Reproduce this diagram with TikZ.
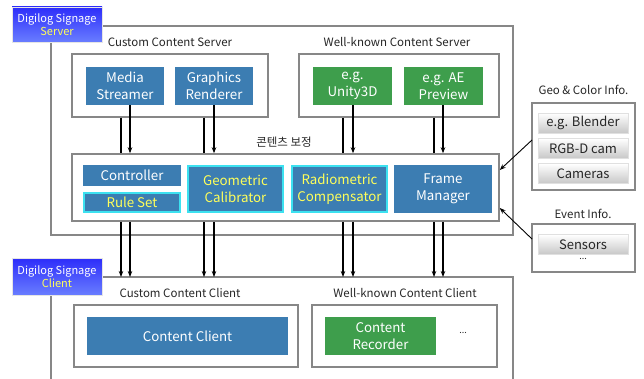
\documentclass[tikz,border=0pt]{standalone}
\usepackage{fontspec}
\setmainfont{Noto Sans CJK KR}
\usetikzlibrary{arrows.meta,calc}
\definecolor{boxblue}{RGB}{60,125,178}
\definecolor{boxgreen}{RGB}{62,158,76}
\definecolor{framegray}{RGB}{135,135,135}
\definecolor{cyanedge}{RGB}{60,225,240}
\definecolor{ytext}{RGB}{255,255,90}
\definecolor{labtop}{RGB}{45,45,250}
\definecolor{labbot}{RGB}{105,125,255}
\tikzset{
  frame/.style={draw=framegray, line width=1.5pt, fill=white, inner sep=0pt},
  bluebox/.style={fill=boxblue, text=white, align=center, inner sep=0pt,
    font=\fontsize{13.3}{16.5}\selectfont},
  greenbox/.style={fill=boxgreen, text=white, align=center, inner sep=0pt,
    font=\fontsize{13.3}{16.5}\selectfont},
  calbox/.style={bluebox, draw=cyanedge, line width=1.2pt, text=ytext},
  graybtn/.style={top color=white, bottom color=black!22, draw=black!12,
    inner sep=0pt, font=\fontsize{13}{16}\selectfont, text=black!85},
  lab/.style={font=\fontsize{11.5}{13}\selectfont, text=black!85, inner sep=0pt},
  sidelab/.style={top color=labtop, bottom color=labbot, draw=black!10,
    align=center, inner sep=0pt, text=white, font=\fontsize{11}{14.5}\selectfont},
  flow/.style={line width=1.2pt, -{Stealth[length=6pt,width=4.5pt]}},
  plain/.style={line width=1.2pt},
  infoarrow/.style={line width=0.9pt, -{Stealth[length=6pt,width=4.5pt]}}
}
\begin{document}
\begin{tikzpicture}[x=1pt,y=-1pt]
\useasboundingbox (0,0) rectangle (644,379);

% server frame
\node[frame, minimum width=462pt, minimum height=209pt] (srv) at (282,130.5) {};
% client frame (open at bottom)
\coordinate (cltl) at (51,277);
\coordinate (cltr) at (513,277);
\draw[framegray, line width=1.5pt] (51,379) -- (cltl) -- (cltr) -- (513,379);

% side labels
\node[sidelab, minimum width=90pt, minimum height=35pt] (srvlab) at (57,24.5)
  {Digilog Signage\\[-1pt]\textcolor{ytext}{Server}};
\node[sidelab, minimum width=90pt, minimum height=37pt] (cltlab) at (57,276.5)
  {Digilog Signage\\[-1pt]\textcolor{ytext}{Client}};

% server sub-frames
\node[lab] (ccslab) at (170,42) {Custom Content Server};
\node[lab] (wcslab) at (397,42) {Well-known Content Server};
\node[frame, minimum width=196pt, minimum height=63pt] (ccs) at (170,85.5) {};
\node[frame, minimum width=200pt, minimum height=63pt] (wcs) at (399,85.5) {};

\node[bluebox, minimum width=78pt, minimum height=38pt] (ms) at (125,86) {Media\\Streamer};
\node[bluebox, minimum width=78pt, minimum height=38pt] (gr) at (214,86) {Graphics\\Renderer};
\node[greenbox, minimum width=79pt, minimum height=38pt] (u3d) at (352.5,86) {e.g.\\Unity3D};
\node[greenbox, minimum width=79pt, minimum height=38pt] (ae) at (443.5,86) {e.g. AE\\Preview};

% middle frame
\node[lab] (corrlab) at (284,142) {콘텐츠 보정};
\node[frame, minimum width=427pt, minimum height=67pt] (mid) at (285.5,187.5) {};
\node[bluebox, minimum width=98pt, minimum height=21pt] (ctrl) at (132,175.5) {Controller};
\node[calbox, minimum width=96pt, minimum height=19pt, text depth=0pt] (rule) at (132,202.5) {Rule Set};
\node[calbox, minimum width=95pt, minimum height=46pt] (geo) at (235.5,189) {Geometric\\Calibrator};
\node[calbox, minimum width=95pt, minimum height=46pt] (rad) at (339.5,189) {Radiometric\\Compensator};
\node[bluebox, minimum width=98pt, minimum height=48pt] (fm) at (443,189) {Frame\\Manager};

% info boxes
\node[lab] (geolab) at (583.5,90) {Geo \& Color Info.};
\node[frame, minimum width=103pt, minimum height=87pt] (geobox) at (583.5,146.5) {};
\node[graybtn, minimum width=90pt, minimum height=20pt] (blender) at (583,123) {e.g. Blender};
\node[graybtn, minimum width=90pt, minimum height=20pt] (rgbd) at (583,148.5) {RGB-D cam};
\node[graybtn, minimum width=90pt, minimum height=20pt] (cams) at (583,173.5) {Cameras};

\node[lab] (evlab) at (583,214) {Event Info.};
\node[frame, minimum width=103pt, minimum height=48pt] (evbox) at (583.5,248) {};
\node[graybtn, minimum width=90pt, minimum height=20pt] (sensors) at (583,244.5) {Sensors};
\node[lab, font=\fontsize{9}{10}\selectfont] (evdots) at (583,259) {...};

% client sub-frames
\node[lab] (ccclab) at (180,293) {Custom Content Client};
\node[lab] (wcclab) at (405,293) {Well-known Content Client};
\node[frame, minimum width=224pt, minimum height=62pt] (ccc) at (186,336) {};
\node[frame, minimum width=185pt, minimum height=62pt] (wcc) at (404.5,336) {};
\node[bluebox, minimum width=201pt, minimum height=38pt] (cc) at (187.5,336) {Content Client};
\node[greenbox, minimum width=111pt, minimum height=38pt] (cr) at (380.5,336) {Content\\Recorder};
\node[lab, font=\fontsize{9}{10}\selectfont] (crdots) at (463,333) {...};

% connector x positions
\coordinate (xa) at (121,0);
\coordinate (xb) at (130,0);
\coordinate (xc) at (204,0);
\coordinate (xd) at (214,0);
\coordinate (xe) at (343,0);
\coordinate (xf) at (353,0);
\coordinate (xg) at (434,0);
\coordinate (xh) at (443,0);

% upper connectors
\draw[plain] (ccs.south -| xa) -- (mid.north -| xa);
\draw[flow]  (ms.south -| xb) -- (mid.north -| xb);
\draw[plain] (ccs.south -| xc) -- (mid.north -| xc);
\draw[flow]  (gr.south -| xd) -- (mid.north -| xd);
\draw[plain] (wcs.south -| xe) -- (mid.north -| xe);
\draw[flow]  (u3d.south -| xf) -- (mid.north -| xf);
\draw[plain] (wcs.south -| xg) -- (mid.north -| xg);
\draw[flow]  (ae.south -| xh) -- (mid.north -| xh);

% lower connectors
\foreach \c in {xa,xb,xc,xd,xe,xf,xg,xh}{
  \draw[flow] (mid.south -| \c) -- (cltl -| \c);
}

% info arrows
\coordinate (geoout) at (532,140);
\coordinate (evout) at (532,239);
\draw[infoarrow] (geoout) -- (mid.east |- 0,170);
\draw[infoarrow] (evout) -- (mid.east |- 0,208);
\end{tikzpicture}
\end{document}
